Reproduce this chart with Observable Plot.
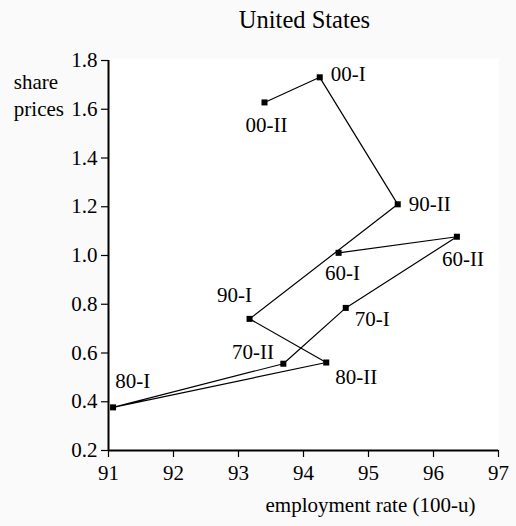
<!DOCTYPE html>
<html><head><meta charset="utf-8">
<script src="https://cdn.jsdelivr.net/npm/d3@7"></script>
<script src="https://cdn.jsdelivr.net/npm/@observablehq/plot@0.6"></script>
<style>html,body{margin:0;padding:0;background:#fafafa;}</style>
</head><body><div id="chart"></div>
<script>
const periods = ["60-I","60-II","70-I","70-II","80-I","80-II","90-I","90-II","00-I","00-II"];
const employmentRate = [94.54, 96.36, 94.65, 93.69, 91.07, 94.35, 93.17, 95.45, 94.25, 93.40];
const sharePrices = [1.011, 1.077, 0.785, 0.556, 0.377, 0.561, 0.740, 1.210, 1.731, 1.628];
const xTicks = [91, 92, 93, 94, 95, 96, 97];
const yTicks = [0.2, 0.4, 0.6, 0.8, 1.0, 1.2, 1.4, 1.6, 1.8];
const titleText = "United States";
const yLabelText = "share\nprices";
const xLabelText = "employment rate (100-u)";

// label placement (style, not data)
const labelPlacement = {
  "60-I": {dx: 4, dy: 20, anchor: "middle"},
  "60-II": {dx: 6, dy: 22.6, anchor: "middle"},
  "70-I": {dx: 9, dy: 11.6, anchor: "start"},
  "70-II": {dx: -9.4, dy: -11, anchor: "end"},
  "80-I": {dx: 2.3, dy: -25.7, anchor: "start"},
  "80-II": {dx: 9, dy: 15, anchor: "start"},
  "90-I": {dx: -15, dy: -24, anchor: "middle"},
  "90-II": {dx: 11, dy: 0, anchor: "start"},
  "00-I": {dx: 11, dy: -3, anchor: "start"},
  "00-II": {dx: 2, dy: 23, anchor: "middle"}
};

const data = periods.map((p, i) => ({period: p, x: employmentRate[i], y: sharePrices[i]}));

const FS = 21;
const labelMarks = periods.map(p => {
  const o = labelPlacement[p];
  return Plot.text(data.filter(d => d.period === p), {
    x: "x", y: "y", text: "period", dx: o.dx, dy: o.dy,
    textAnchor: o.anchor, lineAnchor: "middle", fontSize: FS, fill: "black"
  });
});

const chart = Plot.plot({
  width: 516,
  height: 526,
  marginLeft: 108,
  marginRight: 18,
  marginTop: 60,
  marginBottom: 76,
  style: {fontFamily: "'Liberation Serif', 'Times New Roman', serif", fontSize: FS + "px", background: "transparent", color: "black"},
  x: {domain: [91, 97]},
  y: {domain: [0.2, 1.8]},
  marks: [
    Plot.frame({fill: "white", stroke: null, insetTop: -2}),
    Plot.axisX({ticks: xTicks, tickSize: 7, tickPadding: 8, tickFormat: d3.format("d"), label: null, strokeWidth: 1.2, fontSize: FS}),
    Plot.axisY({ticks: yTicks, tickSize: 7, tickPadding: 4, tickFormat: d3.format(".1f"), label: null, strokeWidth: 1.2, fontSize: FS}),
    Plot.ruleX([91], {stroke: "black", strokeWidth: 2}),
    Plot.ruleY([0.2], {stroke: "black", strokeWidth: 2}),
    Plot.line(data, {x: "x", y: "y", stroke: "black", strokeWidth: 1.2}),
    Plot.dot(data, {x: "x", y: "y", symbol: "square", r: 3.4, fill: "black", stroke: null}),
    ...labelMarks,
    Plot.text([titleText], {text: d => d, frameAnchor: "top", dx: 1, dy: -40.7, lineAnchor: "middle", fontSize: 24.5, fill: "black"}),
    Plot.text([yLabelText], {text: d => d, frameAnchor: "top-left", dx: -94.7, dy: 33.1, textAnchor: "start", lineAnchor: "middle", lineHeight: 1.29, fontSize: FS, fill: "black"}),
    Plot.text([xLabelText], {text: d => d, frameAnchor: "bottom", dx: 67, dy: 54.3, textAnchor: "middle", lineAnchor: "middle", fontSize: FS, fill: "black"})
  ]
});
document.getElementById("chart").appendChild(chart);
</script>
</body></html>
